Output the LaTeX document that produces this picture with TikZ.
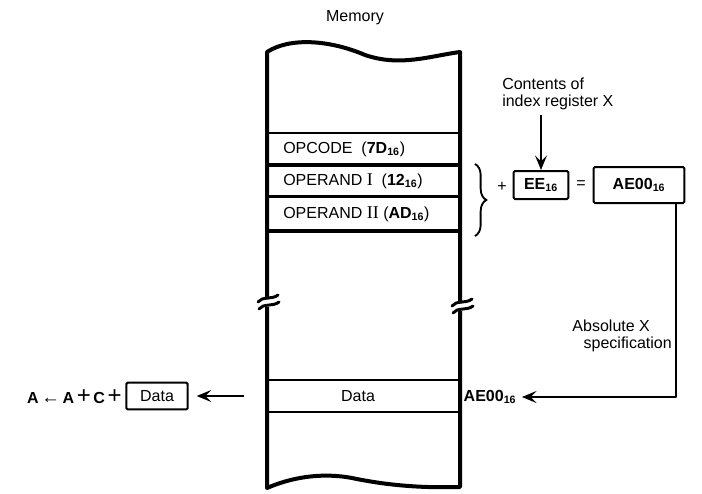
\documentclass[tikz,border=0pt]{standalone}
\usepackage{fontspec}
\setmainfont{Liberation Sans}
\newfontfamily\romfont{Liberation Serif}
\usetikzlibrary{arrows.meta,decorations.pathreplacing}

% bold hexadecimal subscript and serif roman numeral
\newcommand\hx[1]{\textsubscript{\bfseries #1}}
\newcommand\rn[1]{{\romfont\fontsize{13.5}{13.5}\selectfont #1}}

\begin{document}
\begin{tikzpicture}[x=0.75pt,y=-0.75pt,
  font=\fontsize{12}{12.5}\selectfont,
  wall/.style={line width=3pt, line join=round},
  rowline/.style={line width=1.4pt},
  heavyrow/.style={line width=3pt},
  breakmark/.style={line width=2.2pt, line cap=round},
  regbox/.style={draw, line width=1.5pt, rounded corners=1pt, inner sep=0pt},
  lbl/.style={inner sep=0pt},
  arr/.style={line width=1.5pt, -{Stealth[length=11pt,width=9pt,inset=4.5pt]}},
]
\useasboundingbox (0,0) rectangle (702,493);

% ---- memory column ----
\node[lbl] (memlbl) at (355,18) {Memory};

\draw[wall] (267,299) -- (267,52)
  .. controls (290,37) and (330,40) .. (365,55)
  .. controls (400,67) and (430,56) .. (460,52) -- (460,303);
\draw[wall] (267,307) -- (267,488)
  .. controls (290,478) and (320,472) .. (352,478)
  .. controls (390,486) and (425,488) .. (460,487) -- (460,311);

% break marks on both walls
\draw[breakmark] (258,302) .. controls (262,296) and (272,300) .. (278,295);
\draw[breakmark] (259,309) .. controls (263,303) and (273,307) .. (279,302);
\draw[breakmark] (452,306) .. controls (456,300) and (466,304) .. (472,299);
\draw[breakmark] (453,313) .. controls (457,307) and (467,311) .. (473,306);

% memory cells
\draw[rowline]  (267,133) -- (460,133);
\draw[heavyrow] (267,165) -- (460,165);
\draw[line width=2pt] (267,196.5) -- (460,196.5);
\draw[heavyrow] (267,230.5) -- (460,230.5);
\draw[rowline]  (267,380) -- (460,380);
\draw[rowline]  (267,412) -- (460,412);

\node[lbl,anchor=west] (opc) at (283,149) {OPCODE\ \ (\textbf{7D}\hx{16})};
\node[lbl,anchor=west] (op1) at (283,181) {OPERAND \rn{I}\ \ (\textbf{12}\hx{16})};
\node[lbl,anchor=west] (op2) at (283,214) {OPERAND \rn{II}\ (\textbf{AD}\hx{16})};
\node[lbl] (data) at (358,396) {Data};
\coordinate (rowL) at (267,396);

% ---- address calculation ----
\draw[line width=1.4pt, decorate, decoration={brace, amplitude=8.5pt}]
  (475,164) -- (475,236);
\node[lbl] (plus) at (502,187) {+};
\node[regbox, minimum width=41pt, minimum height=21pt] (ee) at (541,185) {\textbf{EE}\hx{16}};
\node[lbl] (eq) at (581,185) {=};
\node[regbox, minimum width=68pt, minimum height=27pt] (ae) at (639,185) {\textbf{AE00}\hx{16}};

\node[lbl, anchor=north west, align=left] (contents) at (502,78)
  {Contents of\\index register X};
\draw[arr] ([yshift=-4pt]contents.south -| ee) -- (ee.north);

\node[lbl, align=left, anchor=south east] (abs) at (672,352)
  {Absolute X\\\hspace*{0.7em}specification};

\node[lbl] (addr) at (490,397) {\textbf{AE00}\hx{16}};
\coordinate (corner) at (676,397);
\draw[arr, line join=round, shorten >=4pt] (ae.south -| corner) -- (corner) -- (addr.east);

% ---- accumulator operation ----
\node[regbox, minimum width=46pt, minimum height=20pt] (datab) at (157,396) {Data};
\node[lbl, anchor=east] (expr) at (122,397)
  {\textbf{A}\,{\fontsize{14}{14}\selectfont ←}\,\textbf{A}\,{\fontsize{18}{18}\selectfont +}\,\textbf{C}\,{\fontsize{18}{18}\selectfont +}};
\draw[arr, shorten <=17pt, shorten >=6pt] (rowL) -- (datab.east);

\end{tikzpicture}
\end{document}
